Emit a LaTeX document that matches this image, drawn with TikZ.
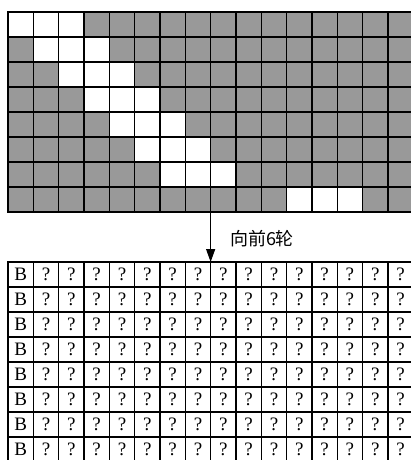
\documentclass[tikz,border=0pt]{standalone}
\usepackage{fontspec}
\setmainfont{Liberation Serif}
\newfontfamily\cjk{Noto Sans CJK SC}
\usetikzlibrary{arrows.meta}

\begin{document}
\begin{tikzpicture}[x=1pt, y=-1pt,
  cell/.style={draw, line width=1.5pt, minimum width=25.33pt, minimum height=25pt, inner sep=0pt, outer sep=0pt, anchor=north west, font=\fontsize{19}{19}\selectfont},
  arr/.style={-{Triangle[width=9pt,length=13pt]}, line width=1.3pt},
  lbl/.style={font=\cjk\fontsize{18}{18}\selectfont}
]
\useasboundingbox (0,0) rectangle (411,460);
\clip (0,0) rectangle (411,460);
% upper grid: gray cells, white band
\foreach \r in {0,...,7} {
  \foreach \c in {0,...,15} {
    \pgfmathtruncatemacro\w{((\r<7)&&(\c>=\r)&&(\c<=\r+2)) || ((\r==7)&&(\c>=11)&&(\c<=13))}
    \ifnum\w=1 \def\fc{white}\else\def\fc{black!40}\fi
    \node[cell, fill=\fc] (t-\r-\c) at (8+25.33*\c, 12+25*\r) {};
  }
}
% lower grid
\foreach \r in {0,...,7} {
  \node[cell] (b-\r-0) at (8, 262+25*\r) {B};
  \foreach \c in {1,...,15} {
    \node[cell] (b-\r-\c) at (8+25.33*\c, 262+25*\r) {?};
  }
}
\draw[arr] (t-7-7.south east) -- (b-0-7.north east);
\node[lbl] (step) at (262,239) {向前6轮};
\end{tikzpicture}
\end{document}
